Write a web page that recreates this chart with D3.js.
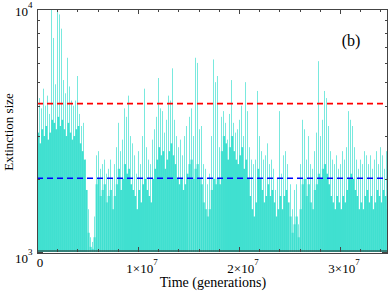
<!DOCTYPE html>
<html lang="en">
<head>
    <meta charset="UTF-8">
    <title>Extinction size</title>
    <script src="https://d3js.org/d3.v7.min.js"></script>
    <style>
        body {
            margin: 0;
            padding: 0;
            background-color: #fff;
            overflow: hidden;
        }
        svg text {
            font-family: "Liberation Serif", "DejaVu Serif", serif;
            fill: #000;
        }
    </style>
</head>
<body>
    <div id="chart"></div>

    <script>
        // sampling step of the series (generations)
        const step = 2e5;

        // largest extinction in each window (light spikes)
        const peakSize = [
            5500, 4300, 3900, 4700, 4000, 4400, 3700, 10000, 7600, 4900,
            10000, 9500, 8300, 5100, 4500, 6300, 4800, 4200, 4000, 4200,
            5300, 3700, 3300, 3400, 2400, 1500, 1150, 1100, 1400, 2500,
            2600, 2200, 2300, 2400, 2100, 2200, 2400, 2000, 2300, 2700,
            3400, 2600, 2900, 3900, 3600, 4400, 3000, 2800, 2500, 2100,
            2600, 2300, 3000, 4700, 2700, 2400, 2300, 2900, 3200, 3600,
            5200, 3900, 3800, 3100, 3500, 4400, 4200, 5700, 3500, 3000,
            2700, 2900, 2500, 3000, 3300, 3600, 3900, 3000, 6300, 6000,
            3200, 3300, 2300, 2200, 1900, 2100, 3000, 6200, 5000, 5300,
            2700, 3600, 3800, 3400, 2900, 3700, 5100, 3400, 3100, 3200,
            3500, 4000, 3000, 5000, 3800, 2700, 2400, 2300, 2400, 4600,
            3000, 2600, 2400, 2500, 2800, 2300, 2400, 2200, 1800, 2000,
            3800, 2100, 2500, 2600, 2300, 1900, 1500, 1800, 1900, 1300,
            2300, 3500, 3200, 2400, 3000, 2300, 2200, 2600, 3100, 6100,
            3000, 3500, 4600, 4300, 3300, 2600, 2400, 2300, 2500, 2200,
            2300, 2600, 2400, 2700, 3800, 3500, 3300, 2700, 2400, 2200,
            2400, 2300, 2600, 2500, 2300, 2500, 2200, 2400, 2600, 2300,
            2700, 2500, 2200, 2600, 2300, 2100
        ];

        // typical extinction in each window (solid body)
        const bulkSize = [
            3100, 2800, 3200, 3000, 3300, 2900, 3100,
            3500, 3400, 3200, 3600, 3300, 3500,
            3200, 3000, 3400, 3100, 2900, 3000, 3200, 3300, 2800, 2600, 2400,
            1800, 1200, 1050, 1030, 1150,
            1900, 2000, 1700, 1800, 1900, 1600, 1700, 1800, 1500, 1700, 1900, 2200, 1800, 2000, 2300, 2100,
            2200, 1900, 1800, 1700, 1500, 1800, 1600, 1900, 2000, 1800, 1700, 1600, 2000, 2200, 2400,
            2700, 2500, 2600, 2200, 2400, 2600, 2800, 2500, 2300, 2000, 1900, 2000, 1800, 1900, 2100, 2300, 2400, 2000,
            2200, 2300, 2000, 1900, 1600, 1500, 1400, 1500, 1800, 2000, 1900,
            2000, 1900, 2600, 3000, 2800, 2400, 2700, 3000, 2600, 2400, 2300, 2500, 2700, 2200, 2400, 2000,
            1700, 1500, 1400, 1600, 2200, 2000, 1800, 1600, 1700, 1900, 1700, 1800, 1600, 1400, 1500, 1700,
            1500, 1700, 1800, 1600, 1400, 1200, 1300, 1400, 1150, 1500, 1900,
            2000, 1700, 1900, 1600, 1500, 1800, 1900, 2100, 2000, 2200, 2300, 2100, 1900, 1700, 1600, 1500,
            1700, 1600, 1500, 1700, 1600, 1800, 2000, 2100, 2000, 1800, 1700, 1500, 1600, 1500, 1700, 1800,
            1600, 1700, 1500, 1600, 1800, 1700, 1600, 1800, 1700, 1500, 1700, 1600
        ];

        // reference levels (dashed lines)
        const upperLevel = 4080;
        const lowerLevel = 2010;

        const xMajor = [0, 1e7, 2e7, 3e7];
        const xMajorExp = ["", "7", "7", "7"];
        const xMajorMant = ["0", "1×10", "2×10", "3×10"];
        const yMajor = [1000, 10000];
        const yMajorExp = ["3", "4"];

        const width = 390, height = 292;
        const mLeft = 37, mRight = 388, mTop = 9, mBottom = 252;

        const svg = d3.select("#chart").append("svg")
            .attr("width", width)
            .attr("height", height);

        const x = d3.scaleLinear().domain([0, 3.475e7]).range([mLeft, mRight]);
        const y = d3.scaleLog().domain([1000, 10000]).range([mBottom, mTop]);

        svg.append("clipPath").attr("id", "plot")
            .append("rect")
            .attr("x", mLeft).attr("y", mTop)
            .attr("width", mRight - mLeft).attr("height", mBottom - mTop);

        const g = svg.append("g").attr("clip-path", "url(#plot)");
        const bw = x(step) - x(0);

        // light spikes (thin lines)
        g.selectAll(".peak")
            .data(peakSize)
            .enter().append("rect")
            .attr("class", "peak")
            .attr("x", (d, i) => Math.round(x(i * step)))
            .attr("width", 1)
            .attr("y", d => y(d))
            .attr("height", d => mBottom - y(d))
            .attr("fill", "#40E0D0")
            .attr("opacity", 0.7);

        // solid body
        g.selectAll(".bulk")
            .data(bulkSize)
            .enter().append("rect")
            .attr("class", "bulk")
            .attr("x", (d, i) => x(i * step))
            .attr("width", bw + 0.1)
            .attr("y", d => y(d))
            .attr("height", d => mBottom - y(d))
            .attr("fill", "#40E0D0");

        // dashed reference lines
        g.append("line")
            .attr("x1", mLeft).attr("x2", mRight)
            .attr("y1", y(upperLevel)).attr("y2", y(upperLevel))
            .attr("stroke", "#ff0000").attr("stroke-width", 1.6)
            .attr("stroke-dasharray", "6,4");

        g.append("line")
            .attr("x1", mLeft).attr("x2", mRight)
            .attr("y1", y(lowerLevel)).attr("y2", y(lowerLevel))
            .attr("stroke", "#0000ff").attr("stroke-width", 1.6)
            .attr("stroke-dasharray", "6,4");

        // series floor
        svg.append("line")
            .attr("x1", mLeft).attr("x2", mRight)
            .attr("y1", mBottom - 1).attr("y2", mBottom - 1)
            .attr("stroke", "#222").attr("stroke-width", 1);

        // ticks (inward, all four sides)
        const axisColor = "#444";
        const tk = svg.append("g").attr("stroke", axisColor).attr("stroke-width", 1);

        d3.range(0, 3.5e7, 2e6).forEach(t => {
            const len = t % 1e7 === 0 ? 5 : 3;
            const px = Math.round(x(t)) + 0.5;
            tk.append("line").attr("x1", px).attr("x2", px)
                .attr("y1", mBottom).attr("y2", mBottom - len);
            tk.append("line").attr("x1", px).attr("x2", px)
                .attr("y1", mTop).attr("y2", mTop + len);
        });

        d3.range(1000, 10001, 1000).forEach(v => {
            const len = (v === 1000 || v === 10000) ? 6 : 3;
            const py = Math.round(y(v)) + 0.5;
            tk.append("line").attr("x1", mLeft).attr("x2", mLeft + len)
                .attr("y1", py).attr("y2", py);
            tk.append("line").attr("x1", mRight).attr("x2", mRight - len)
                .attr("y1", py).attr("y2", py);
        });

        // frame
        svg.append("rect")
            .attr("x", mLeft + 0.5).attr("y", mTop + 0.5)
            .attr("width", mRight - mLeft - 1).attr("height", mBottom - mTop + 1)
            .attr("fill", "none")
            .attr("stroke", axisColor).attr("stroke-width", 1);

        // x tick labels
        xMajor.forEach((t, i) => {
            const tx = svg.append("text")
                .attr("x", t === 0 ? x(t) + 3 : x(t) + 4)
                .attr("y", t === 0 ? 267 : 273)
                .attr("text-anchor", "middle")
                .attr("font-size", 13);
            tx.append("tspan").text(xMajorMant[i]);
            if (xMajorExp[i]) {
                tx.append("tspan").attr("dy", -8).attr("font-size", 9).text(xMajorExp[i]);
            }
        });

        // y tick labels
        yMajor.forEach((v, i) => {
            const ty = svg.append("text")
                .attr("x", 15)
                .attr("y", y(v) + (v === 1000 ? 11 : 7))
                .attr("font-size", 13);
            ty.append("tspan").text("10");
            ty.append("tspan").attr("dy", -8).attr("font-size", 9).text(yMajorExp[i]);
        });

        // axis titles
        svg.append("text")
            .attr("x", 213).attr("y", 287)
            .attr("text-anchor", "middle")
            .attr("font-size", 14)
            .text("Time (generations)");

        svg.append("text")
            .attr("transform", "translate(13,132) rotate(-90)")
            .attr("text-anchor", "middle")
            .attr("font-size", 13)
            .text("Extinction size");

        svg.append("text")
            .attr("x", 351).attr("y", 46)
            .attr("text-anchor", "middle")
            .attr("font-size", 16)
            .text("(b)");
    </script>
</body>
</html>
